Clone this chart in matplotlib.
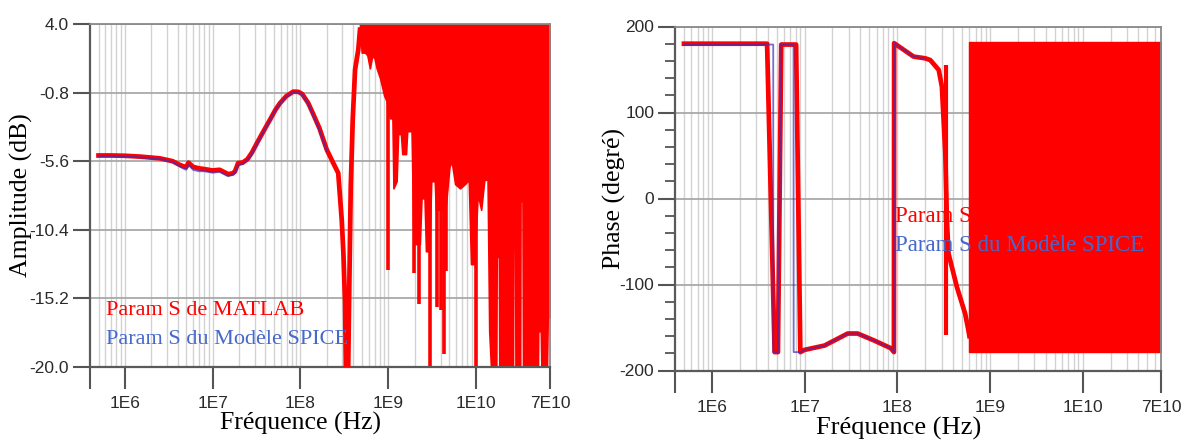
import matplotlib
matplotlib.use('Agg')
import matplotlib.pyplot as plt
from matplotlib.ticker import FixedLocator, MultipleLocator, NullFormatter

plt.rcParams['axes.unicode_minus'] = False

# ---- Amplitude (dB) : courbe MATLAB (rouge) ----
f_amp = [5e5, 7e5, 1e6, 1.5e6, 2.5e6, 3.5e6, 4.2e6, 4.6e6, 5e6, 5.3e6, 6e6, 7e6, 8e6,
         1e7, 1.2e7, 1.5e7, 1.7e7, 1.8e7, 1.95e7, 2.2e7, 2.5e7, 2.8e7, 3.2e7, 3.8e7,
         4.5e7, 5.2e7, 5.85e7, 6.9e7, 8.3e7, 9.5e7, 1.05e8, 1.23e8, 1.4e8, 1.65e8,
         2.0e8, 2.37e8, 2.7e8, 2.96e8, 3.09e8, 3.23e8, 3.31e8, 3.49e8, 3.61e8,
         3.75e8, 3.95e8, 4.2e8, 4.57e8, 4.78e8]
amp_matlab = [-5.2, -5.2, -5.22, -5.28, -5.4, -5.6, -5.85, -5.95, -6.0, -5.7, -6.0, -6.1, -6.15,
              -6.25, -6.2, -6.5, -6.45, -6.3, -5.73, -5.7, -5.45, -5.0, -4.33, -3.5,
              -2.7, -2.0, -1.54, -1.05, -0.73, -0.75, -0.9, -1.54, -2.3, -3.3,
              -4.8, -5.73, -6.43, -9.7, -12.0, -15.5, -21.0, -21.0, -14.4,
              -7.4, -2.7, 0.8, 2.2, 3.6]

# ---- Amplitude (dB) : modèle SPICE (bleu) ----
f_amp_spice = [5e5, 7e5, 1e6, 1.5e6, 2.5e6, 3.5e6, 4.2e6, 4.6e6, 5e6, 5.3e6, 6e6, 7e6, 8e6,
               1e7, 1.2e7, 1.5e7, 1.7e7, 1.8e7, 1.95e7, 2.2e7, 2.5e7, 2.8e7, 3.2e7, 3.8e7,
               4.5e7, 5.2e7, 5.85e7, 6.9e7, 8.3e7, 9.5e7, 1.05e8, 1.23e8, 1.4e8, 1.65e8,
               2.0e8]
amp_spice = [-5.25, -5.25, -5.27, -5.33, -5.45, -5.65, -5.95, -6.1, -6.2, -5.85, -6.2, -6.3, -6.3,
             -6.4, -6.35, -6.65, -6.55, -6.4, -5.9, -5.8, -5.5, -5.1, -4.4, -3.55,
             -2.75, -2.0, -1.6, -1.1, -0.75, -0.78, -0.95, -1.6, -2.4, -3.4,
             -4.9]

# ---- Amplitude : zone d'oscillations rapides (enveloppe basse) ----
f_osc = [4.78e8, 5.0e8, 5.46e8, 5.8e8, 6.2e8, 6.6e8, 7.0e8, 7.4e8, 8.1e8, 9.0e8, 9.6e8,
         1.05e9, 1.12e9, 1.15e9, 1.25e9, 1.3e9, 1.4e9, 1.45e9, 1.6e9, 1.65e9, 1.85e9,
         1.95e9, 2.3e9, 2.4e9, 2.6e9, 2.7e9, 2.95e9, 3.1e9, 3.4e9, 3.5e9, 4.5e9,
         5.0e9, 5.3e9, 5.8e9, 6.6e9, 7.5e9, 8.3e9, 8.8e9, 9.6e9, 1.05e10, 1.15e10,
         1.25e10, 1.36e10, 1.42e10, 1.5e10, 1.71e10, 1.73e10, 1.83e10, 1.85e10,
         2.65e10, 2.68e10, 2.8e10, 2.83e10, 3.2e10, 3.23e10, 3.4e10, 3.45e10,
         5.1e10, 5.14e10, 5.5e10, 5.6e10, 6.1e10, 6.15e10, 6.35e10, 6.45e10,
         6.6e10, 7.0e10]
amp_osc_low = [3.6, 2.0, 2.0, 1.8, 0.9, 1.8, 1.6, 0.9, 0.2, -1.0, -1.4,
               -2.6, -2.6, -7.5, -7.0, -3.7, -3.7, -5.1, -5.1, -3.5, -3.5,
               -11.4, -11.4, -8.2, -8.2, -11.9, -11.9, -7.0, -7.0, -9.0, -9.0,
               -6.0, -5.6, -7.2, -7.5, -7.2, -6.9, -12.8, -12.8, -7.9, -9.0,
               -6.9, -6.9, -17.5, -20.5, -20.5, -12.3, -12.3, -20.5,
               -20.5, -11.4, -11.4, -20.5, -20.5, -8.4, -8.4, -20.5,
               -20.5, -17.5, -17.5, -20.5, -20.5, -19.0, -19.0, -20.5,
               -16.5, -16.5]
amp_osc_high = 4.5
# pics étroits vers le bas
f_amp_spikes = [1.0e9, 1.97e9, 2.25e9, 3.0e9, 3.58e9, 4.0e9, 4.34e9, 4.6e9, 1.0e10]
amp_spikes = [-13.2, -13.4, -15.6, -20.5, -15.8, -16.0, -19.1, -13.3, -20.5]

# ---- Phase (degré) : MATLAB ----
f_ph = [5e5, 1e6, 3.94e6, 4.75e6, 5.16e6, 5.6e6, 8.1e6, 9.0e6, 1e7, 1.64e7,
        2.92e7, 3.73e7, 5.6e7, 8.5e7, 9.2e7, 9.25e7, 1.5e8, 2.0e8, 2.27e8,
        2.8e8, 3.03e8, 3.3e8, 3.43e8, 3.57e8, 4.4e8, 5.4e8, 5.85e8, 6.0e8]
phase_matlab = [180, 180, 180, -178.6, -178.6, 179, 179, -178.6, -176, -171,
                -157, -157, -165, -174, -178.6, 180.6, 165, 163, 161,
                149.5, 130, 52, -25, -64, -103, -134, -153, -160]
# trait vertical isolé vers 3.35e8 Hz
f_ph_spike = [3.35e8]
phase_spike_top = [155]
phase_spike_bottom = [-159]

# ---- Phase (degré) : SPICE ----
f_ph_spice = [5e5, 1e6, 4.59e6, 4.6e6, 5.16e6, 5.6e6, 7.6e6, 7.62e6, 9.0e6, 1e7,
              1.64e7, 2.92e7, 3.73e7, 5.6e7, 8.5e7, 9.2e7, 9.25e7, 1.5e8, 2.0e8]
phase_spice = [179, 179, 179, -178.6, -178.6, 179, 179, -178.6, -178.6, -176,
               -171, -157, -157, -165, -174, -178.6, 180.6, 165, 163]

# ---- Phase : zone d'oscillations rapides ----
f_ph_osc = [6.0e8, 7e10]
phase_osc_high = [182.5, 182.5]
phase_osc_low = [-179.0, -179.0]

x_ticks = [4e5, 1e6, 1e7, 1e8, 1e9, 1e10, 7e10]
x_ticklabels = ['', '1E6', '1E7', '1E8', '1E9', '1E10', '7E10']
amp_ticks = [4.0, -0.8, -5.6, -10.4, -15.2, -20.0]
phase_ticks = [200, 100, 0, -100, -200]

RED = '#ff0000'
BLUE_LINE = '#3a2fc0'
BLUE_TXT = '#4668cc'
SERIF = ['Liberation Serif', 'DejaVu Serif']
TICKFONT = ['Liberation Sans', 'DejaVu Sans']

fig = plt.figure(figsize=(11.91, 4.45), dpi=100)
ax1 = fig.add_axes([90 / 1191, 1 - 367 / 445, 460 / 1191, 343 / 445])
ax2 = fig.add_axes([675 / 1191, 1 - 370.5 / 445, 486 / 1191, 344 / 445])

# grille verticale : 1..9 x chaque décade
vgrid = []
for dec in [1e5, 1e6, 1e7, 1e8, 1e9, 1e10]:
    for k in range(1, 10):
        v = k * dec
        if 4e5 < v < 7e10:
            vgrid.append(v)


def style_axes(ax, yticks, ylim):
    ax.set_xscale('log')
    ax.set_xlim(4e5, 7e10)
    ax.set_ylim(*ylim)
    for v in vgrid:
        ax.axvline(v, color='#d2d2d2', lw=1.0, zorder=0)
    for y in yticks:
        ax.axhline(y, color='#a9a9a9', lw=1.3, zorder=0)
    ax.xaxis.set_major_locator(FixedLocator(x_ticks))
    ax.xaxis.set_minor_locator(FixedLocator([]))
    ax.xaxis.set_minor_formatter(NullFormatter())
    ax.set_xticklabels(x_ticklabels)
    ax.set_yticks(yticks)
    ax.tick_params(axis='x', length=16, width=1.5, color='#555555', pad=5,
                   labelsize=12.5, labelcolor='#2a2a2a')
    ax.tick_params(axis='y', length=12, width=1.5, color='#555555', pad=3,
                   labelsize=12.5, labelcolor='#2a2a2a')
    for lab in ax.get_xticklabels() + ax.get_yticklabels():
        lab.set_family(TICKFONT)
    for side in ['left', 'bottom']:
        ax.spines[side].set_color('#5a5a5a')
        ax.spines[side].set_linewidth(1.6)
    for side in ['top', 'right']:
        ax.spines[side].set_color('#8a8a8a')
        ax.spines[side].set_linewidth(1.3)


# ----- Amplitude -----
style_axes(ax1, amp_ticks, (-20.0, 4.0))
ax1.set_yticklabels(['%.1f' % t for t in amp_ticks])
ax1.fill_between(f_osc, amp_osc_low, amp_osc_high, facecolor=RED, edgecolor=RED,
                 lw=1.2, zorder=2)
ax1.vlines(f_amp_spikes, amp_spikes, amp_osc_high, color=RED, lw=2.6, zorder=2)
ax1.plot(f_amp, amp_matlab, color=RED, lw=3.4, zorder=3, solid_joinstyle='round')
ax1.plot(f_amp_spice, amp_spice, color=BLUE_LINE, lw=1.4, alpha=0.7, zorder=4)
ax1.set_xlabel('Fréquence (Hz)', family=SERIF, fontsize=18.5)
ax1.xaxis.set_label_coords(0.457, -0.13)
ax1.set_ylabel('Amplitude (dB)', family=SERIF, fontsize=18.5)
ax1.yaxis.set_label_coords(-0.125, 0.5)
ax1.text(0.035, 0.166, 'Param S de MATLAB', transform=ax1.transAxes, color=RED,
         family=SERIF, fontsize=16, va='center', zorder=6)
ax1.text(0.035, 0.079, 'Param S du Modèle SPICE', transform=ax1.transAxes,
         color=BLUE_TXT, family=SERIF, fontsize=16, va='center', zorder=6)

# ----- Phase -----
style_axes(ax2, phase_ticks, (-200, 200))
ax2.yaxis.set_minor_locator(MultipleLocator(20))
ax2.tick_params(axis='y', which='minor', length=7, width=1.3, color='#555555')
ax2.fill_between(f_ph_osc, phase_osc_low, phase_osc_high, facecolor=RED,
                 edgecolor=RED, lw=1.0, zorder=2)
ax2.plot(f_ph, phase_matlab, color=RED, lw=3.4, zorder=3, solid_joinstyle='round')
ax2.vlines(f_ph_spike, phase_spike_bottom, phase_spike_top, color=RED, lw=3.0, zorder=3)
ax2.plot(f_ph_spice, phase_spice, color=BLUE_LINE, lw=1.3, alpha=0.7, zorder=4)
ax2.set_xlabel('Fréquence (Hz)', family=SERIF, fontsize=19)
ax2.xaxis.set_label_coords(0.461, -0.135)
ax2.set_ylabel('Phase (degré)', family=SERIF, fontsize=18.5)
ax2.yaxis.set_label_coords(-0.1, 0.5)
ax2.text(0.453, 0.4465, 'Param S de MATLAB', transform=ax2.transAxes, color=RED,
         family=SERIF, fontsize=16.5, va='center', zorder=6)
ax2.text(0.453, 0.364, 'Param S du Modèle SPICE', transform=ax2.transAxes,
         color=BLUE_TXT, family=SERIF, fontsize=16.5, va='center', zorder=6)

fig.savefig('out.png', dpi=100)
